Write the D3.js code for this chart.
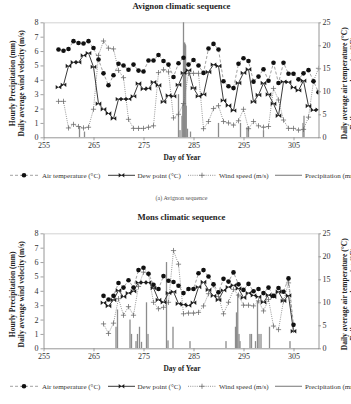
<!DOCTYPE html>
<html><head><meta charset="utf-8">
<script src="https://cdn.jsdelivr.net/npm/d3@7"></script>
<style>html,body{margin:0;padding:0;background:#fff;overflow:hidden}</style>
</head><body>
<svg id="c" width="351" height="404"></svg>
<script>
// ---------- data ----------
const xTicks = [255, 265, 275, 285, 295, 305];
const leftTicks = [0, 1, 2, 3, 4, 5, 6, 7, 8];
const rightTicks = [0, 5, 10, 15, 20, 25];

// Avignon, daily values from day 258 to day 310
const avignonStart = 258;
const avignonAir = [19.1,18.8,19.2,20.9,20.5,20.4,20.9,19.4,16.9,13.9,11.3,13.5,16.0,15.6,14.7,15.8,14.5,14.3,16.7,16.7,17.9,16.6,15.8,13.1,16.1,17.3,15.8,16.8,15.6,14.0,19.3,20.3,19.1,12.2,11.1,10.7,16.0,17.2,16.6,12.1,13.2,14.8,12.3,16.2,11.8,16.2,13.8,13.8,12.6,13.9,14.6,12.2,9.8];
const avignonDew = [10.9,11.4,15.5,16.3,16.3,17.8,18.3,15.3,7.3,6.1,5.2,4.1,8.3,8.3,8.3,8.9,11.7,10.5,10.6,12.0,11.3,7.7,9.1,8.9,11.4,14.0,14.6,10.7,8.9,9.3,14.2,15.8,15.5,8.0,6.9,5.8,11.8,14.0,14.8,7.7,9.2,11.8,9.3,7.3,4.7,12.1,12.0,10.8,10.2,12.3,6.8,5.9,6.0];
const avignonWind = [2.5,2.5,0.65,0.9,0.75,0.65,0.7,1.95,5.7,6.7,6.2,6.15,4.65,4.15,1.25,0.62,0.62,0.62,0.7,0.8,4.5,4.7,4.55,1.35,1.6,2.35,4.45,4.45,4.45,0.6,1.1,2.0,2.2,1.1,1.0,0.85,1.15,1.95,0.6,1.1,0.8,0.7,0.75,3.4,2.6,1.2,0.62,0.62,0.5,0.55,1.4,3.9,4.8];
const avignonPrecipDay = [262.2,263.2,282.0,282.3,282.7,282.85,283.0,283.12,283.22,283.32,283.42,283.55,283.8,284.4,290.0,294.4,295.7,296.0,299.0,306.9,307.1];
const avignonPrecipMm  = [0.75,0.4,3.0,0.5,1.5,2.3,9.0,6.5,6.6,6.5,6.4,2.2,0.6,0.4,1.0,1.0,0.7,0.7,0.5,1.0,1.5];

// Mons, daily values from day 267 to day 305
const monsStart = 267;
const monsAir = [11.4,10.6,11.4,14.2,13.2,14.8,13.2,17.0,17.5,16.2,13.8,12.9,15.7,14.7,14.4,13.6,12.0,12.9,12.9,16.3,17.0,15.6,13.9,12.2,15.1,14.5,16.5,13.9,12.7,14.0,12.4,12.9,12.0,13.2,11.4,13.1,12.3,15.2,5.1];
const monsDew = [9.9,9.2,10.5,12.6,11.2,12.0,12.4,14.3,14.3,14.3,13.1,10.5,10.0,12.0,12.3,9.7,9.5,9.3,9.9,13.3,14.4,12.7,11.4,10.5,12.6,13.3,13.7,13.0,11.0,12.0,11.5,11.2,10.0,11.6,11.2,12.3,10.3,11.5,3.7];
const monsWind = [1.7,1.03,1.75,3.45,2.3,2.9,2.3,4.3,5.3,5.15,3.2,2.75,2.85,3.2,6.8,5.85,2.4,2.45,2.45,2.5,2.95,3.8,4.4,3.6,2.4,3.2,4.1,3.7,3.0,3.0,2.95,3.3,2.6,3.4,1.55,1.3,3.3,4.55,1.25];
const monsPrecipDay = [269.5,269.8,272.3,272.6,273.5,273.8,274.2,274.6,275.6,275.9,279.6,279.9,280.9,284.3,291.5,293.4,293.6,293.85,294.1,294.3,296.3,296.6,297.4,297.8,298.1,298.5,300.2,304.3];
const monsPrecipMm  = [1.5,2.7,2.0,1.0,0.5,1.0,1.5,0.45,3.2,1.0,6.0,0.55,1.5,0.5,0.5,1.5,2.5,3.8,1.0,0.5,1.0,1.0,0.5,3.3,1.0,1.0,1.5,0.5];

const titles = ["Avignon climatic sequence", "Mons climatic sequence"];
const caption = "(a) Avignon sequence";
const xTitle = "Day of Year";
const leftTitles = ["Hourly Precipitation (mm)", "Daily average wind velocity (m/s)"];
const rightTitles = ["Daily average air temperature (°C)", "Daily average dew point (°C)"];
const legendLabels = ["Air temperature (°C)", "Dew point (°C)", "Wind speed (m/s)", "Precipitation (mm)"];

// ---------- drawing ----------
const FONT = "'Liberation Serif','Times New Roman',serif";
const svg = d3.select("#c");
svg.append("rect").attr("width", 351).attr("height", 404).attr("fill", "#fff");

const x = d3.scaleLinear().domain([255, 310]).range([43.5, 318.5]);

const STY = {
  air:  {stroke: "#8a8a8a", width: 0.8, dash: "3,2"},
  dew:  {stroke: "#3a3a3a", width: 1.0, dash: null},
  wind: {stroke: "#7a7a7a", width: 0.8, dash: "1,1.2"},
  prec: {fill: "#8c8c8c"}
};
const bowtie = "M-2.8,-2.2L0,0L-2.8,2.2ZM2.8,-2.2L0,0L2.8,2.2Z";
const plus = "M-2.6,0H2.6M0,-2.6V2.6";

function drawPanel(cfg, idx) {
  const top = cfg.top, bottom = cfg.top + 115;
  const yL = d3.scaleLinear().domain([0, 8]).range([bottom, top]);
  const yR = d3.scaleLinear().domain([0, 25]).range([bottom, top]);
  const g = svg.append("g");

  g.append("text").attr("x", 181.5).attr("y", top - 13.5).attr("text-anchor", "middle")
    .attr("font-family", FONT).attr("font-weight", "bold").attr("font-size", 8.7)
    .attr("fill", "#222").text(cfg.title);

  g.append("line").attr("x1", x(255)).attr("x2", x(310)).attr("y1", top + 0.5).attr("y2", top + 0.5)
    .attr("stroke", "#c8c8c8").attr("stroke-width", 0.8);

  const cid = "clip" + idx;
  svg.append("clipPath").attr("id", cid).append("rect")
    .attr("x", x(255)).attr("y", top).attr("width", x(310) - x(255)).attr("height", 115);
  const plot = g.append("g").attr("clip-path", `url(#${cid})`);

  plot.selectAll("rect.p").data(cfg.pDay).join("rect")
    .attr("x", d => x(d) - 0.65).attr("width", 1.3)
    .attr("y", (d, i) => yL(cfg.pMm[i])).attr("height", (d, i) => yL(0) - yL(cfg.pMm[i]))
    .attr("fill", STY.prec.fill);

  const series = [
    {vals: cfg.wind, y: yL, sty: STY.wind, mark: "plus"},
    {vals: cfg.dew, y: yR, sty: STY.dew, mark: "bowtie"},
    {vals: cfg.air, y: yR, sty: STY.air, mark: "dot"}
  ];
  series.forEach(s => {
    const line = d3.line().x((d, i) => x(cfg.start + i)).y(d => s.y(d));
    plot.append("path").attr("d", line(s.vals)).attr("fill", "none")
      .attr("stroke", s.sty.stroke).attr("stroke-width", s.sty.width)
      .attr("stroke-dasharray", s.sty.dash);
  });
  series.forEach(s => {
    const mg = plot.append("g");
    s.vals.forEach((d, i) => {
      const px = x(cfg.start + i), py = s.y(d);
      if (s.mark === "dot") {
        mg.append("circle").attr("cx", px).attr("cy", py).attr("r", 2.3).attr("fill", "#111");
      } else if (s.mark === "bowtie") {
        mg.append("path").attr("d", bowtie).attr("transform", `translate(${px},${py})`).attr("fill", "#1e1e1e");
      } else {
        mg.append("path").attr("d", plus).attr("transform", `translate(${px},${py})`)
          .attr("stroke", "#6a6a6a").attr("stroke-width", 0.75).attr("fill", "none");
      }
    });
  });

  const styleAxis = sel => {
    sel.selectAll(".domain").attr("stroke", "#8a8a8a").attr("stroke-width", 0.9);
    sel.selectAll(".tick line").attr("stroke", "#8a8a8a").attr("stroke-width", 0.8);
    sel.selectAll(".tick text").attr("font-family", FONT).attr("font-size", 8).attr("fill", "#333");
  };
  g.append("g").attr("transform", `translate(${x(255)},0)`)
    .call(d3.axisLeft(yL).tickValues(leftTicks).tickSize(3).tickPadding(2).tickSizeOuter(0))
    .call(styleAxis);
  g.append("g").attr("transform", `translate(${x(310)},0)`)
    .call(d3.axisRight(yR).tickValues(rightTicks).tickSize(2.5).tickPadding(1.5).tickSizeOuter(0))
    .call(styleAxis);
  g.append("g").attr("transform", `translate(0,${bottom})`)
    .call(d3.axisBottom(x).tickValues(xTicks).tickFormat(d3.format("d")).tickSize(3).tickPadding(2.5).tickSizeOuter(0))
    .call(styleAxis);

  g.append("text").attr("x", 182).attr("y", bottom + 22.5).attr("text-anchor", "middle")
    .attr("font-family", FONT).attr("font-weight", "bold").attr("font-size", 7.4).attr("fill", "#222")
    .text(xTitle);
  const cy = top + 61;
  [[15, leftTitles[0]], [23.5, leftTitles[1]]].forEach(([bx, t]) => {
    g.append("text").attr("transform", `translate(${bx},${cy}) rotate(-90)`).attr("text-anchor", "middle")
      .attr("font-family", FONT).attr("font-weight", "bold").attr("font-size", 7.5).attr("fill", "#222").text(t);
  });
  [[347, rightTitles[0]], [355.5, rightTitles[1]]].forEach(([bx, t]) => {
    g.append("text").attr("transform", `translate(${bx},${cy}) rotate(-90)`).attr("text-anchor", "middle")
      .attr("font-family", FONT).attr("font-weight", "bold").attr("font-size", 7.5).attr("fill", "#222").text(t);
  });

  const ly = bottom + 38;
  const items = [
    {x1: 10, x2: 38, tx: 42, sty: STY.air, mark: "dot"},
    {x1: 108, x2: 135, tx: 137.5, sty: STY.dew, mark: "bowtie"},
    {x1: 188, x2: 216, tx: 219, sty: STY.wind, mark: "plus"},
    {x1: 275, x2: 302, tx: 305, sty: {stroke: "#8c8c8c", width: 1.2, dash: null}, mark: null}
  ];
  items.forEach((it, i) => {
    g.append("line").attr("x1", it.x1).attr("x2", it.x2).attr("y1", ly).attr("y2", ly)
      .attr("stroke", it.sty.stroke).attr("stroke-width", it.sty.width).attr("stroke-dasharray", it.sty.dash);
    const mx = (it.x1 + it.x2) / 2;
    if (it.mark === "dot") g.append("circle").attr("cx", mx).attr("cy", ly).attr("r", 2.3).attr("fill", "#111");
    if (it.mark === "bowtie") g.append("path").attr("d", bowtie).attr("transform", `translate(${mx},${ly})`).attr("fill", "#1e1e1e");
    if (it.mark === "plus") g.append("path").attr("d", plus).attr("transform", `translate(${mx},${ly})`).attr("stroke", "#6a6a6a").attr("stroke-width", 0.75);
    g.append("text").attr("x", it.tx).attr("y", ly + 2.5).attr("font-family", FONT).attr("font-size", 7)
      .attr("fill", "#333").text(legendLabels[i]);
  });
}

drawPanel({top: 22.3, title: titles[0], start: avignonStart, air: avignonAir, dew: avignonDew, wind: avignonWind, pDay: avignonPrecipDay, pMm: avignonPrecipMm}, 0);
drawPanel({top: 233.3, title: titles[1], start: monsStart, air: monsAir, dew: monsDew, wind: monsWind, pDay: monsPrecipDay, pMm: monsPrecipMm}, 1);

svg.append("text").attr("x", 181.5).attr("y", 200).attr("text-anchor", "middle")
  .attr("font-family", FONT).attr("font-size", 6).attr("fill", "#555").text(caption);
</script>
</body></html>
